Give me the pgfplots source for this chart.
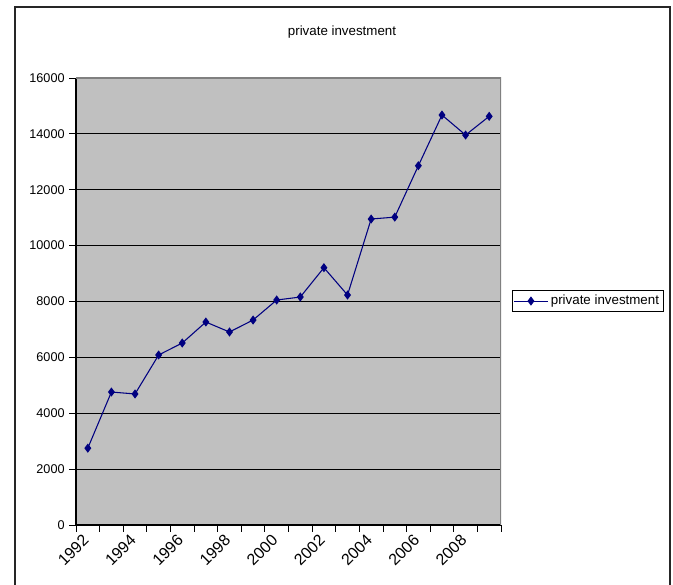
\documentclass[border=0pt]{standalone}
\usepackage{fontspec}
\setmainfont{Liberation Sans}
\usepackage{pgfplots}
\pgfplotsset{compat=1.18}

\definecolor{plotbg}{HTML}{C0C0C0}
\definecolor{navy}{HTML}{000080}

\begin{document}
\begin{tikzpicture}[x=0.75pt,y=0.75pt]
  % page = 673 x 584 px, 1px = 0.75pt
  \useasboundingbox (0,0) rectangle (673,584);
  \draw[line width=1.5pt, black!85] (14.5,-10) rectangle (669.5,576.5);
  \node[font=\fontsize{10}{12}\selectfont] at (342,552) {private investment};

  \begin{axis}[
      at={(57pt,44.25pt)}, anchor=south west,
      scale only axis,
      width=318.75pt, height=335.25pt,
      xmin=-0.5, xmax=17.5,
      ymin=0, ymax=16000,
      axis background/.style={fill=plotbg},
      axis x line*=bottom, axis y line*=left,
      axis line style={black, line width=0.8pt},
      tick align=outside,
      major tick length=5pt,
      tick style={black, line width=0.6pt},
      xtick={-0.5,0.5,...,17.5},
      xticklabels={},
      extra x ticks={0,2,...,16},
      extra x tick labels={1992,1994,1996,1998,2000,2002,2004,2006,2008},
      extra x tick style={major tick length=0pt,
        tick label style={rotate=45, anchor=north east, inner sep=0pt,
          yshift=-1.2pt, xshift=-7.5pt, font=\fontsize{12}{14}\selectfont}},
      ytick={0,2000,...,16000},
      ymajorgrids,
      major grid style={black, line width=0.6pt},
      scaled y ticks=false,
      /pgf/number format/assume math mode=true,
      /pgf/number format/1000 sep={},
      yticklabel style={font=\fontsize{9.5}{11}\selectfont},
      legend style={at={(1.026,0.501)}, anchor=west,
        font=\fontsize{10}{12}\selectfont, draw=black, line width=0.6pt,
        inner xsep=1pt, inner ysep=1.5pt, cells={anchor=west}},
      legend image code/.code={
        \draw[mark repeat=2, mark phase=2, #1]
          plot coordinates {(0pt,0pt) (12.5pt,0pt) (25pt,0pt)};
      },
    ]
    \addplot[navy, line width=0.8pt, mark=diamond*, mark size=2.8pt,
             mark options={solid, fill=navy}] coordinates {
      (0,2750) (1,4760) (2,4690) (3,6085) (4,6514) (5,7265)
      (6,6908) (7,7337) (8,8053) (9,8160) (10,9210) (11,8232)
      (12,10952) (13,11020) (14,12860) (15,14674) (16,13958) (17,14628)
    };
    \addlegendentry{private investment}
    \draw[gray, line width=0.8pt] (rel axis cs:0,1) -- (rel axis cs:1,1) -- (rel axis cs:1,0);
  \end{axis}
\end{tikzpicture}
\end{document}
